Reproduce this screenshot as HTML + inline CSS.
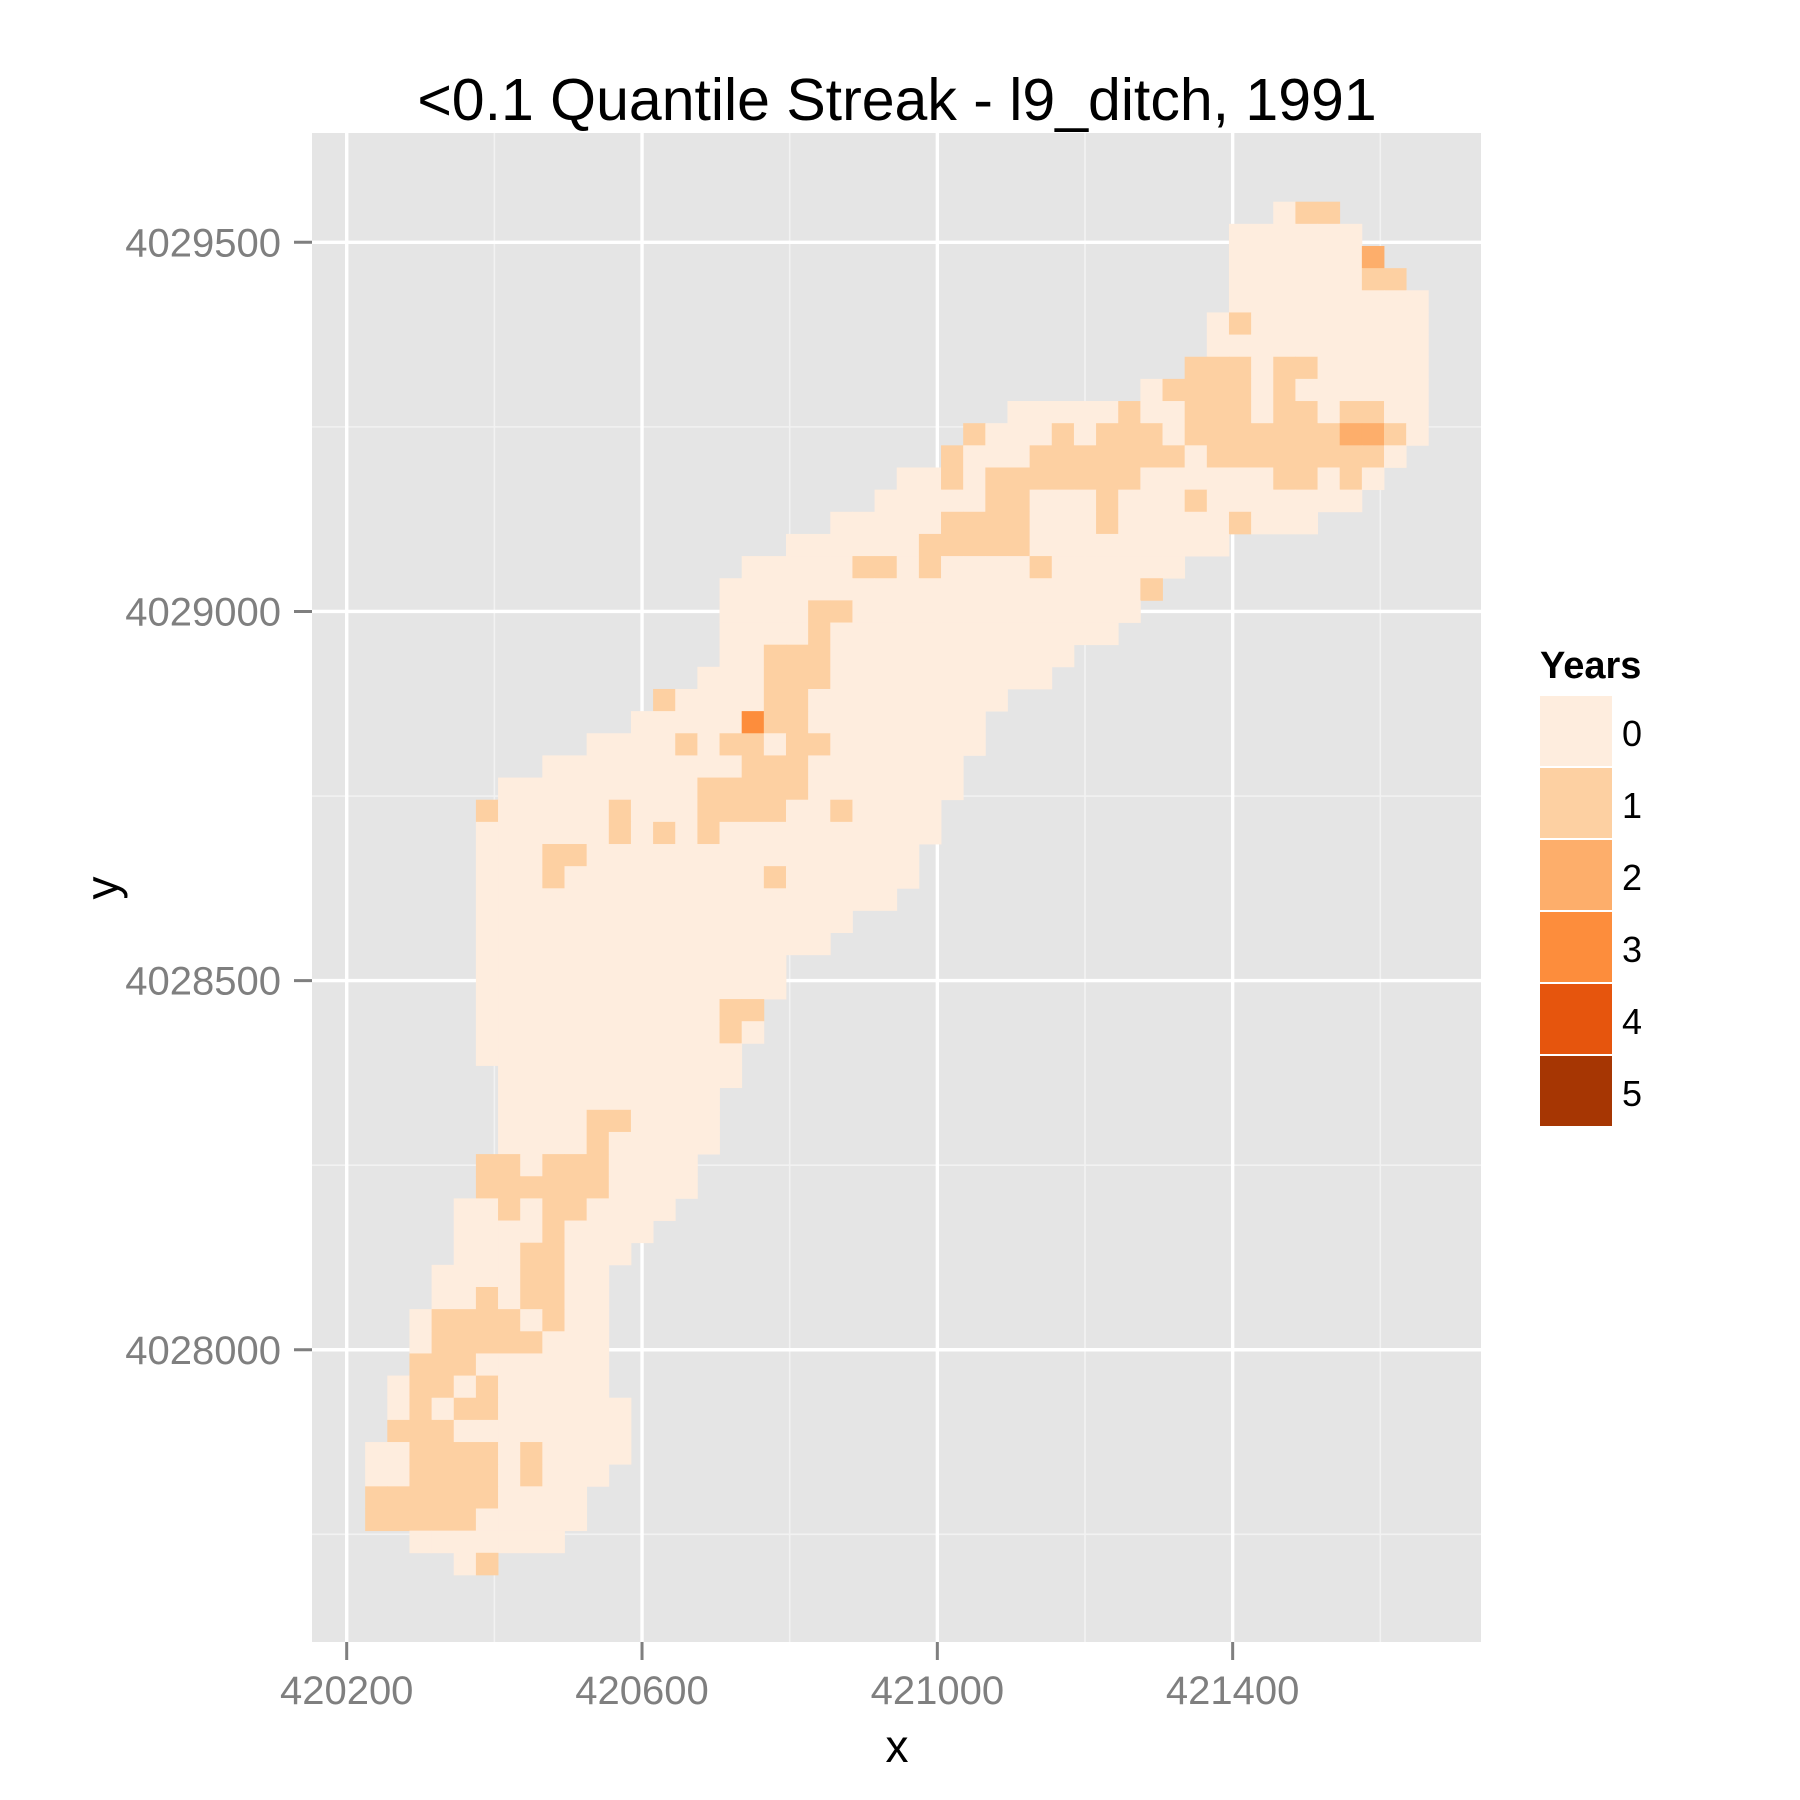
<!DOCTYPE html>
<html><head><meta charset="utf-8"><style>
html,body{margin:0;padding:0;background:#fff;}
svg{display:block;font-family:"Liberation Sans",Arial,sans-serif;}
</style></head><body>
<svg id="chart" width="1800" height="1800" viewBox="0 0 1800 1800" xmlns="http://www.w3.org/2000/svg">
<rect x="0" y="0" width="1800" height="1800" fill="#ffffff"/>
<text x="897" y="120" text-anchor="middle" font-size="59" fill="#000">&lt;0.1 Quantile Streak - l9_ditch, 1991</text>
<rect x="312" y="133" width="1169" height="1509" fill="#e5e5e5"/>
<g id="grid"></g>
<g id="cells"></g>
<g id="axes"></g>
<text x="897" y="1762" text-anchor="middle" font-size="46" fill="#000">x</text>
<text transform="translate(118,888) rotate(-90)" text-anchor="middle" font-size="46" fill="#000">y</text>
<g id="legend">
<text x="1540" y="678" font-size="38" font-weight="bold" fill="#000">Years</text>
</g>
</svg>
<script>
// ---- data ----
const xTicks = [420200, 420600, 421000, 421400];
const xMinor = [420400, 420800, 421200, 421600];
const yTicks = [4028000, 4028500, 4029000, 4029500];
const yMinor = [4027750, 4028250, 4028750, 4029250];
const xTickLabels = ["420200", "420600", "421000", "421400"];
const yTickLabels = ["4028000", "4028500", "4029000", "4029500"];
const legendLevels = ["0", "1", "2", "3", "4", "5"];
const levelColors = ["#feedde", "#fdd0a2", "#fdae6b", "#fd8d3c", "#e6550d", "#a63603"];
const cellSize = 30;
const xFirstCenter = 420240;
const yFirstCenter = 4029540;
// each row: runs "colStart-colEnd:years"
const rowRuns = [
"41:0 42-43:1",
"39-44:0",
"39-44:0 45:2",
"39-44:0 45-46:1",
"39-47:0",
"38:0 39:1 40-47:0",
"38-47:0",
"37-39:1 40:0 41-42:1 43-47:0",
"35:0 36-39:1 40:0 41:1 42-47:0",
"29-33:0 34:1 35-36:0 37-39:1 40:0 41-42:1 43:0 44-45:1 46-47:0",
"27:1 28-30:0 31:1 32:0 33-35:1 36:0 37-43:1 44-45:2 46:1 47:0",
"26:1 27-29:0 30-36:1 37:0 38-45:1 46:0",
"24-25:0 26:1 27:0 28-34:1 35-40:0 41-42:1 43:0 44:1 45:0",
"23-27:0 28-29:1 30-32:0 33:1 34-36:0 37:1 38-44:0",
"21-25:0 26-29:1 30-32:0 33:1 34-38:0 39:1 40-42:0",
"19-24:0 25-29:1 30-38:0",
"17-21:0 22-23:1 24:0 25:1 26-29:0 30:1 31-36:0",
"16-34:0 35:1",
"16-19:0 20-21:1 22-34:0",
"16-19:0 20:1 21-33:0",
"16-17:0 18-20:1 21-31:0",
"15-17:0 18-20:1 21-30:0",
"13:1 14-17:0 18-19:1 20-28:0",
"12-16:0 17:3 18-19:1 20-27:0",
"10-13:0 14:1 15:0 16-17:1 18:0 19-20:1 21-27:0",
"8-16:0 17-19:1 20-26:0",
"6-14:0 15-19:1 20-26:0",
"5:1 6-10:0 11:1 12-14:0 15-18:1 19-20:0 21:1 22-25:0",
"5-10:0 11:1 12:0 13:1 14:0 15:1 16-25:0",
"5-7:0 8-9:1 10-24:0",
"5-7:0 8:1 9-17:0 18:1 19-24:0",
"5-23:0",
"5-21:0",
"5-20:0",
"5-18:0",
"5-18:0",
"5-15:0 16-17:1",
"5-15:0 16:1 17:0",
"5-16:0",
"6-16:0",
"6-15:0",
"6-9:0 10-11:1 12-15:0",
"6-9:0 10:1 11-15:0",
"5-6:1 7:0 8-10:1 11-14:0",
"5-10:1 11-14:0",
"4-5:0 6:1 7:0 8-9:1 10-13:0",
"4-7:0 8:1 9-12:0",
"4-6:0 7-8:1 9-11:0",
"3-6:0 7-8:1 9-10:0",
"3-4:0 5:1 6:0 7-8:1 9-10:0",
"2:0 3-6:1 7:0 8:1 9-10:0",
"2:0 3-7:1 8-10:0",
"2-4:1 5-10:0",
"1:0 2-3:1 4:0 5:1 6-10:0",
"1:0 2:1 3:0 4-5:1 6-11:0",
"1-3:1 4-11:0",
"0-1:0 2-5:1 6:0 7:1 8-11:0",
"0-1:0 2-5:1 6:0 7:1 8-10:0",
"0-5:1 6-9:0",
"0-4:1 5-9:0",
"2-8:0",
"4:0 5:1"
];
// ---- scales ----
function sx(u){ return 346.7 + (u - 420200) * 0.7383; }
function sy(u){ return 242.3 - (u - 4029500) * 0.7383; }
const NS = "http://www.w3.org/2000/svg";
function mk(tag, attrs, parent){
  const e = document.createElementNS(NS, tag);
  for (const k in attrs) e.setAttribute(k, attrs[k]);
  parent.appendChild(e);
  return e;
}
const PR = 1481;
const grid = document.getElementById('grid');
xMinor.forEach(v => {
  const l = mk('line', {x1: sx(v), x2: sx(v), y1: 133, y2: 1642, stroke: '#f2f2f2', 'stroke-width': 1.6}, grid);
  
  
});
yMinor.forEach(v => {
  const l = mk('line', {x1: 312, x2: PR, y1: sy(v), y2: sy(v), stroke: '#f2f2f2', 'stroke-width': 1.6}, grid);
  
  
});
xTicks.forEach(v => {
  const l = mk('line', {x1: sx(v), x2: sx(v), y1: 133, y2: 1642, stroke: '#ffffff', 'stroke-width': 3.4}, grid);
  
  
});
yTicks.forEach(v => {
  const l = mk('line', {x1: 312, x2: PR, y1: sy(v), y2: sy(v), stroke: '#ffffff', 'stroke-width': 3.4}, grid);
  
  
});
// cells
const cells = document.getElementById('cells');
rowRuns.forEach((row, r) => {
  row.split(' ').forEach(run => {
    const [range, val] = run.split(':');
    const parts = range.split('-').map(Number);
    const c0 = parts[0], c1 = parts.length > 1 ? parts[1] : parts[0];
    for (let c = c0; c <= c1; c++) {
      const xc = xFirstCenter + c * cellSize;
      const yc = yFirstCenter - r * cellSize;
      const x0 = sx(xc - cellSize / 2), x1 = sx(xc + cellSize / 2);
      const y0 = sy(yc + cellSize / 2), y1 = sy(yc - cellSize / 2);
      const rect = mk('rect', {x: x0, y: y0, width: x1 - x0 + 0.4, height: y1 - y0 + 0.4, fill: levelColors[+val]}, cells);
      
      
    }
  });
});
// axes
const axes = document.getElementById('axes');
xTicks.forEach((v, i) => {
  const t = mk('line', {x1: sx(v), x2: sx(v), y1: 1642, y2: 1660, stroke: '#7f7f7f', 'stroke-width': 3}, axes);
  
  
  const lb = mk('text', {x: sx(v), y: 1704, 'text-anchor': 'middle', 'font-size': 40, fill: '#7f7f7f'}, axes);
  lb.textContent = xTickLabels[i];
  
  
});
yTicks.forEach((v, i) => {
  const t = mk('line', {x1: 294, x2: 312, y1: sy(v), y2: sy(v), stroke: '#7f7f7f', 'stroke-width': 3}, axes);
  
  
  const lb = mk('text', {x: 281, y: sy(v) + 14, 'text-anchor': 'end', 'font-size': 40, fill: '#7f7f7f'}, axes);
  lb.textContent = yTickLabels[i];
  
  
});
// legend
const legend = document.getElementById('legend');
legendLevels.forEach((lv, i) => {
  const top = 696 + i * 72;
  const k = mk('rect', {x: 1540, y: top, width: 72, height: 70, fill: levelColors[i]}, legend);
  
  
  const t = mk('text', {x: 1622, y: top + 50, 'font-size': 36, fill: '#000'}, legend);
  t.textContent = lv;
  
  
});
</script>
</body></html>
